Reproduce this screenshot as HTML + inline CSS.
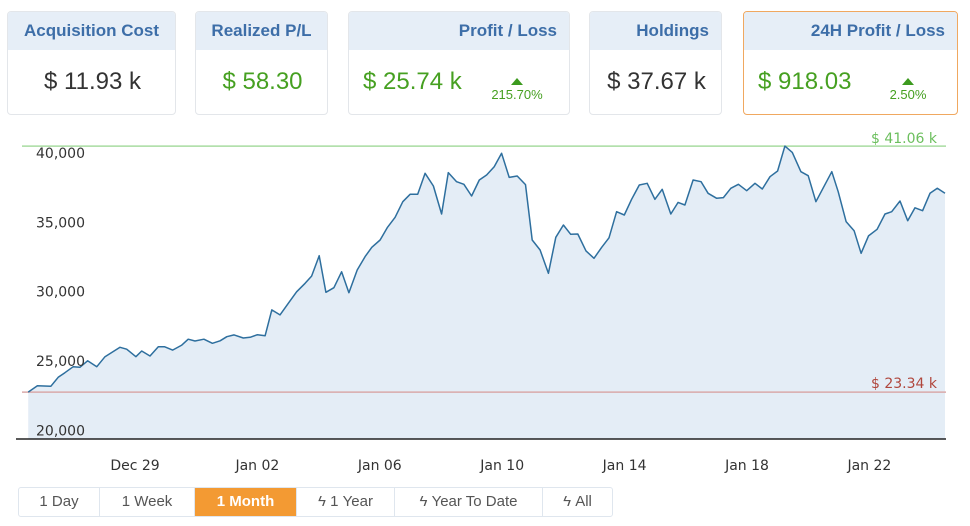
<!DOCTYPE html>
<html><head><meta charset="utf-8"><style>
body{margin:0;width:970px;height:526px;background:#fff;font-family:"Liberation Sans","DejaVu Sans",sans-serif;position:relative;overflow:hidden}
.card{position:absolute;top:11px;height:104px;border:1px solid #e3e6ea;border-radius:4px;background:#fff;box-sizing:border-box;overflow:hidden}
.card .hd{height:38px;background:#e6eef7;color:#3d6ea8;font-weight:bold;font-size:17px;line-height:38px;text-align:right;padding:0 12px}
.card .val{position:absolute;top:54px;font-size:24px;line-height:32px;color:#333}
.green{color:#46a021!important}
.pct{position:absolute;top:66px;font-size:13px;color:#46a021;text-align:center;width:60px}
.pct .tri{display:block;margin:0 auto 2px;width:0;height:0;border-left:6px solid transparent;border-right:6px solid transparent;border-bottom:7px solid #3c9a1e}
.btns{position:absolute;left:18px;top:487px;height:28px;display:flex;border:1px solid #dfe6ee;border-radius:3px;overflow:hidden}
.btns div{font-size:15px;line-height:28px;color:#555;text-align:center;border-right:1px solid #dfe6ee;box-sizing:border-box}
.btns div:last-child{border-right:none}
.btns .on{background:#f39a33;color:#fff;font-weight:bold}
</style></head><body>
<div class="card" style="left:7px;width:169px"><div class="hd" style="text-align:center">Acquisition Cost</div><div class="val" style="left:0;width:169px;text-align:center">$ 11.93 k</div></div>
<div class="card" style="left:195px;width:133px"><div class="hd" style="text-align:center">Realized P/L</div><div class="val green" style="left:0;width:133px;text-align:center">$ 58.30</div></div>
<div class="card" style="left:348px;width:222px"><div class="hd">Profit / Loss</div><div class="val green" style="left:14px">$ 25.74 k</div><div class="pct" style="left:138px"><span class="tri"></span>215.70%</div></div>
<div class="card" style="left:589px;width:133px"><div class="hd">Holdings</div><div class="val" style="left:0;width:133px;text-align:center">$ 37.67 k</div></div>
<div class="card" style="left:743px;width:215px;border-color:#f0a860"><div class="hd">24H Profit / Loss</div><div class="val green" style="left:14px">$ 918.03</div><div class="pct" style="left:134px"><span class="tri"></span>2.50%</div></div>

<svg id="chart" width="970" height="526" style="position:absolute;left:0;top:0"></svg>

<div class="btns">
<div style="width:81px">1 Day</div>
<div style="width:95px">1 Week</div>
<div class="on" style="width:102px">1 Month</div>
<div style="width:98px">ϟ 1 Year</div>
<div style="width:148px">ϟ Year To Date</div>
<div style="width:69px">ϟ All</div>
</div>

<script>
const days=[-3.49,-3.19,-2.75,-2.51,-2.29,-2.02,-1.80,-1.55,-1.25,-0.98,-0.49,-0.27,0.03,0.22,0.49,0.76,0.96,1.23,1.53,1.74,1.96,2.25,2.53,2.78,3.00,3.24,3.54,3.76,4.00,4.25,4.47,4.74,5.01,5.28,5.56,5.77,6.02,6.24,6.50,6.75,6.99,7.26,7.52,7.74,8.01,8.25,8.50,8.75,8.99,9.24,9.48,9.75,10.02,10.24,10.51,10.75,11.00,11.25,11.49,11.74,11.98,12.23,12.49,12.76,12.98,13.24,13.51,13.75,14.00,14.24,14.47,14.74,15.00,15.25,15.49,15.74,15.99,16.23,16.48,16.74,16.99,17.23,17.51,17.75,17.97,18.24,18.50,18.73,19.01,19.23,19.47,19.72,19.99,20.26,20.50,20.75,21.00,21.24,21.48,21.76,22.00,22.25,22.77,22.98,23.24,23.50,23.73,23.97,24.25,24.51,24.73,25.00,25.25,25.49,25.74,25.98,26.22,26.47];
const values=[23340,23800,23760,24410,24740,25170,25130,25600,25170,25890,26570,26430,25890,26300,25940,26610,26610,26370,26730,27150,27020,27150,26860,27040,27330,27460,27240,27290,27480,27400,29260,28900,29740,30570,31180,31700,33170,30530,30860,32010,30500,32140,33100,33770,34300,35210,35930,37060,37590,37590,39100,38190,36170,39150,38500,38310,37470,38620,38980,39580,40540,38810,38910,38290,34300,33580,31900,34490,35380,34710,34730,33510,32980,33770,34460,36340,36100,37230,38260,38380,37230,37950,36170,37010,36820,38620,38500,37660,37300,37350,38020,38310,37850,38380,37970,38860,39270,41060,40610,39220,38930,37060,39220,37780,35620,34970,33340,34590,35070,36170,36340,37110,35690,36620,36410,37660,38020,37660];
const yTicks=[20000,25000,30000,35000,40000];
const xTickDays=[0,4,8,12,16,20,24];
const xTickLabels=["Dec 29","Jan 02","Jan 06","Jan 10","Jan 14","Jan 18","Jan 22"];
const maxLine=41060, minLine=23340;
const maxLabel="$ 41.06 k", minLabel="$ 23.34 k";

const X0=28,X1=946,YB=438.5;
const xs=d=>135+d*30.6;
const ys=v=>YB-(v-20000)*0.013883;
const svg=document.getElementById('chart');
const NS='http://www.w3.org/2000/svg';
function mk(t,a){const e=document.createElementNS(NS,t);for(const k in a)e.setAttribute(k,a[k]);svg.appendChild(e);return e;}

let pts=days.map((d,i)=>xs(d).toFixed(1)+','+ys(values[i]).toFixed(1));
const area=mk('polygon',{points:pts.join(' ')+' '+xs(days[days.length-1]).toFixed(1)+','+YB+' '+xs(days[0]).toFixed(1)+','+YB,fill:'#e4edf6'});



const gl=mk('line',{x1:X0-6,x2:X1,y1:ys(maxLine),y2:ys(maxLine),stroke:'#a8dca0','stroke-width':1.5});


const rl=mk('line',{x1:X0-6,x2:X1,y1:ys(minLine),y2:ys(minLine),stroke:'#d9aaaa','stroke-width':1.5});


const gt=mk('text',{x:937,y:ys(maxLine)-3,'text-anchor':'end','font-size':14,fill:'#6cbf5e','font-family':'DejaVu Sans, sans-serif'});
gt.textContent=maxLabel;


const rt=mk('text',{x:937,y:ys(minLine)-4,'text-anchor':'end','font-size':14,fill:'#b0473d','font-family':'DejaVu Sans, sans-serif'});
rt.textContent=minLabel;



const line=mk('polyline',{points:pts.join(' '),fill:'none',stroke:'#2e6f9e','stroke-width':1.5,'stroke-linejoin':'round'});



const ax=mk('line',{x1:16,x2:X1,y1:YB+0.5,y2:YB+0.5,stroke:'#222','stroke-width':1.5});



yTicks.forEach(v=>{
  const t=mk('text',{x:36,y:ys(v)-3,'font-size':14,fill:'#333','font-family':'DejaVu Sans, sans-serif'});
  t.textContent=v.toLocaleString('en-US');
  
  
});
xTickDays.forEach((d,i)=>{
  const t=mk('text',{x:xs(d),y:470,'text-anchor':'middle','font-size':14,fill:'#333','font-family':'DejaVu Sans, sans-serif'});
  t.textContent=xTickLabels[i];
  
  
});
</script>
</body></html>
